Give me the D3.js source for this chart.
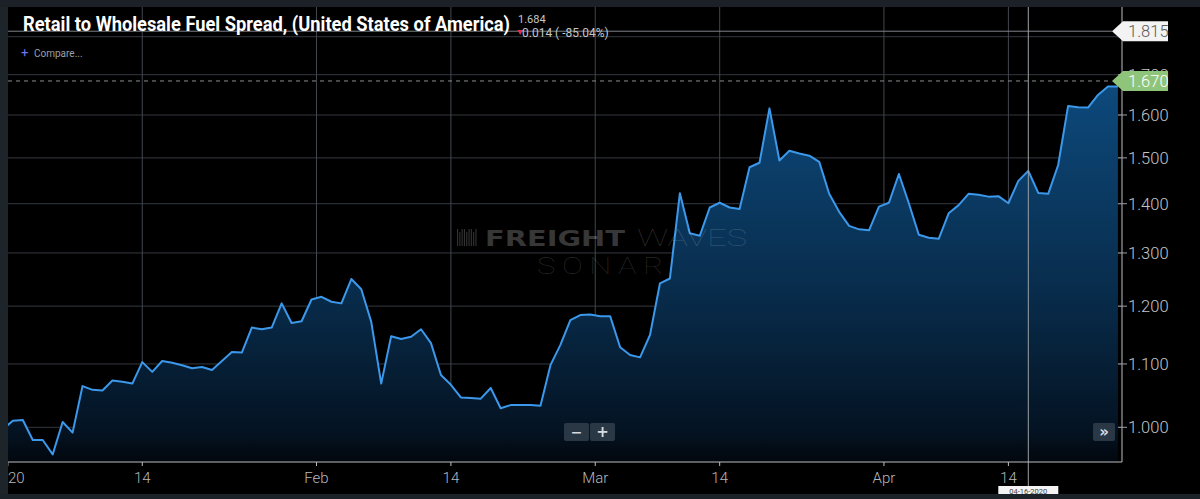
<!DOCTYPE html>
<html><head><meta charset="utf-8">
<script src="https://cdn.jsdelivr.net/npm/d3@7"></script>
<style>body{margin:0;background:#000;overflow:hidden}svg{display:block}</style>
</head><body>
<svg id="c" width="1200" height="499"></svg>
<script>
// ---- data ----
const values = [0.997,1.010,1.011,0.981,0.981,0.960,1.008,0.992,1.064,1.058,
1.057,1.073,1.071,1.068,1.103,1.087,1.105,1.102,1.098,1.093,
1.095,1.090,1.105,1.120,1.119,1.162,1.159,1.162,1.205,1.170,
1.173,1.212,1.217,1.208,1.205,1.250,1.231,1.172,1.068,1.147,
1.142,1.146,1.159,1.135,1.082,1.066,1.046,1.045,1.044,1.061,
1.029,1.034,1.034,1.034,1.033,1.098,1.132,1.175,1.184,1.185,
1.182,1.182,1.128,1.115,1.111,1.149,1.242,1.251,1.422,1.339,
1.334,1.392,1.402,1.392,1.389,1.479,1.489,1.616,1.494,1.516,
1.510,1.505,1.491,1.421,1.383,1.354,1.347,1.345,1.394,1.402,
1.464,1.401,1.336,1.330,1.328,1.380,1.397,1.421,1.419,1.415,
1.416,1.401,1.449,1.471,1.423,1.421,1.484,1.622,1.619,1.618,
1.649,1.670,1.670];
const yGridValues = [1.0,1.1,1.2,1.3,1.4,1.5,1.6,1.7,1.8];
const yLabelValues = [1.0,1.1,1.2,1.3,1.4,1.5,1.6,1.7];
const xTickPos = [0.5,14,31.5,45,59.5,72,88.5,101];
const xTickLabels = ["2020","14","Feb","14","Mar","14","Apr","14"];
const titleText = "Retail to Wholesale Fuel Spread, (United States of America)";
const lastQuote = "1.684";
const changeText = "0.014 ( -85.04%)";
const highValue = 1.815, highLabel = "1.815";
const currentValue = 1.684, currentLabel = "1.670";
const crosshairPos = 103, crosshairLabel = "04-16-2020";

// ---- layout ----
const W = 1200, H = 499;
const L = 8, R = 1122, T = 7, B = 462;
const svg = d3.select("#c");
const x = d3.scaleLinear().domain([0, values.length - 1]).range([2.9, 1117.9]);
const y = d3.scaleLog().domain([1, 1.7]).range([427.3, 74.7]);
const font = "Roboto, 'Noto Sans', sans-serif";

svg.append("rect").attr("width", W).attr("height", H).attr("fill", "#000");

const defs = svg.append("defs");
defs.append("clipPath").attr("id","plot").append("rect")
  .attr("x", L).attr("y", T).attr("width", R - L).attr("height", B - T);
const g = defs.append("linearGradient").attr("id","fill")
  .attr("gradientUnits","userSpaceOnUse").attr("x1",0).attr("x2",0).attr("y1",80).attr("y2",B);
g.append("stop").attr("offset","0").attr("stop-color","#0d4a7d");
g.append("stop").attr("offset","0.57").attr("stop-color","#082b4a");
g.append("stop").attr("offset","0.92").attr("stop-color","#041322");
g.append("stop").attr("offset","1").attr("stop-color","#02070d");

const plot = svg.append("g").attr("clip-path","url(#plot)");

// grid
plot.selectAll(".hg").data(yGridValues).join("line")
  .attr("x1", L).attr("x2", R).attr("y1", d => y(d)).attr("y2", d => y(d))
  .attr("stroke", "#34383f").attr("stroke-width", 1);
plot.selectAll(".vg").data(xTickPos.slice(1)).join("line")
  .attr("x1", d => x(d)).attr("x2", d => x(d)).attr("y1", T).attr("y2", B)
  .attr("stroke", "#42474e").attr("stroke-width", 1);

// area + line
const area = d3.area().x((d,i) => x(i)).y0(B).y1(d => y(d));
const line = d3.line().x((d,i) => x(i)).y(d => y(d));
plot.append("path").datum(values).attr("d", area).attr("fill", "url(#fill)");

// watermark
const wm = svg.append("g");
d3.range(9).forEach(i => {
  wm.append("rect").attr("x", 457 + i * 2.3).attr("y", 229 + (i % 3 === 1 ? 3 : 0))
    .attr("width", 1.1).attr("height", 17 - (i % 3 === 1 ? 3 : 0))
    .attr("fill", "rgba(255,255,255,0.2)");
});
wm.append("text").attr("x", 485).attr("y", 246).text("FREIGHT")
  .attr("font-family", "'DejaVu Sans', sans-serif").attr("font-weight", "bold").attr("font-size", 22)
  .attr("textLength", 140).attr("lengthAdjust", "spacingAndGlyphs")
  .attr("fill", "rgba(255,255,255,0.22)");
wm.append("text").attr("x", 637).attr("y", 246).text("WAVES")
  .attr("font-family", font).attr("font-weight", 100).attr("font-size", 23)
  .attr("textLength", 110).attr("lengthAdjust", "spacingAndGlyphs")
  .attr("fill", "rgba(255,255,255,0.16)");
wm.append("text").attr("x", 537).attr("y", 274).text("SONAR")
  .attr("font-family", font).attr("font-weight", 100).attr("font-size", 24)
  .attr("letter-spacing", 5)
  .attr("textLength", 133).attr("lengthAdjust", "spacingAndGlyphs")
  .attr("fill", "rgba(255,255,255,0.15)");

plot.append("path").datum(values).attr("d", line)
  .attr("fill", "none").attr("stroke", "#3b98ea").attr("stroke-width", 2).attr("stroke-linejoin","round");

// reference lines
svg.append("line").attr("x1", L).attr("x2", 1112).attr("y1", y(highValue)).attr("y2", y(highValue))
  .attr("stroke", "#7d8288").attr("stroke-width", 1);
svg.append("line").attr("x1", L).attr("x2", 1112).attr("y1", y(currentValue)).attr("y2", y(currentValue))
  .attr("stroke", "#8a8d90").attr("stroke-width", 1).attr("stroke-dasharray", "4,4");

// crosshair
svg.append("line").attr("x1", x(crosshairPos)).attr("x2", x(crosshairPos)).attr("y1", T).attr("y2", 486)
  .attr("stroke", "#9da2a7").attr("stroke-width", 1);

// axes lines
svg.append("line").attr("x1", L).attr("x2", R).attr("y1", B).attr("y2", B).attr("stroke", "#b9bdc1");
svg.append("line").attr("x1", R).attr("x2", R).attr("y1", 0).attr("y2", B).attr("stroke", "#b9bdc1");

// x ticks
svg.selectAll(".xt").data(xTickPos).join("line")
  .attr("x1", d => x(d)).attr("x2", d => x(d)).attr("y1", B).attr("y2", B + 4).attr("stroke", "#b9bdc1");
svg.selectAll(".xl").data(xTickPos).join("text")
  .attr("x", d => x(d)).attr("y", 483).attr("text-anchor", "middle")
  .attr("font-family", font).attr("font-weight", 300).attr("font-size", 15).attr("fill", "#b4b8bc")
  .text((d,i) => xTickLabels[i]);

// y ticks & labels
svg.selectAll(".yt").data(yLabelValues).join("line")
  .attr("x1", 1118).attr("x2", 1127).attr("y1", d => y(d)).attr("y2", d => y(d)).attr("stroke", "#9a9ea3");
svg.selectAll(".yl").data(yLabelValues).join("text")
  .attr("x", 1128).attr("y", d => y(d) + 6).attr("font-family", font).attr("font-weight", 300)
  .attr("font-size", 16.5).attr("fill", "#c3c6c9").text(d => d3.format(".3f")(d));

// value flags
function flag(v, label, bg, fg) {
  const yy = y(v);
  svg.append("path")
    .attr("d", `M1112,${yy} L1123,${yy-10} L1168,${yy-10} L1168,${yy+10} L1123,${yy+10} Z`)
    .attr("fill", bg);
  svg.append("text").attr("x", 1128).attr("y", yy + 6).attr("font-family", font).attr("font-weight", 300)
    .attr("font-size", 16.5).attr("fill", fg).text(label);
}
flag(highValue, highLabel, "#f3f3f3", "#5a5a5a");
flag(currentValue, currentLabel, "#8fc47b", "#ffffff");

// crosshair date box
const cx = x(crosshairPos);
svg.append("rect").attr("x", cx - 30).attr("y", 486).attr("width", 60).attr("height", 9).attr("fill", "#f4f4f4");
svg.append("text").attr("x", cx).attr("y", 493.5).attr("text-anchor","middle").attr("font-family", font)
  .attr("font-size", 7.5).attr("fill", "#444").text(crosshairLabel);

// buttons
function button(bx, bw, label, size) {
  svg.append("rect").attr("x", bx).attr("y", 423).attr("width", bw).attr("height", 18).attr("rx", 2)
    .attr("fill", "#2a3846");
  svg.append("text").attr("x", bx + bw / 2).attr("y", 437).attr("text-anchor","middle")
    .attr("font-family", "'DejaVu Sans', sans-serif").attr("font-weight","bold").attr("font-size", size)
    .attr("fill", "#d5dbe1").text(label);
}
button(564, 25, "−", 14);
button(590, 25, "+", 15);
button(1093, 22, "»", 15);

// title
svg.append("text").attr("x", 23).attr("y", 31).text(titleText)
  .attr("font-family", font).attr("font-weight", "bold").attr("font-size", 20.5)
  .attr("textLength", 487).attr("lengthAdjust", "spacingAndGlyphs").attr("fill", "#ffffff");
svg.append("text").attr("x", 518).attr("y", 22.5).text(lastQuote)
  .attr("font-family", font).attr("font-size", 11).attr("fill", "#c4c7ca");
svg.append("path").attr("d", "M517.5,30 L523,30 L520.2,35 Z").attr("fill", "#e0304a");
svg.append("text").attr("x", 522).attr("y", 37).text(changeText)
  .attr("font-family", font).attr("font-size", 12).attr("fill", "#c4c7ca");
svg.append("text").attr("x", 21).attr("y", 57).text("+")
  .attr("font-family", font).attr("font-size", 13).attr("fill", "#7474f0");
svg.append("text").attr("x", 34).attr("y", 57).text("Compare...")
  .attr("font-family", font).attr("font-size", 10).attr("fill", "#9aa1a8");

// frame bands
svg.append("rect").attr("x", 0).attr("y", 0).attr("width", L).attr("height", H).attr("fill", "#1d242a");
svg.append("rect").attr("x", 0).attr("y", 0).attr("width", W).attr("height", T).attr("fill", "#1b2127");
svg.append("rect").attr("x", 0).attr("y", 494).attr("width", W).attr("height", 5).attr("fill", "#1b2228");
</script>
</body></html>
